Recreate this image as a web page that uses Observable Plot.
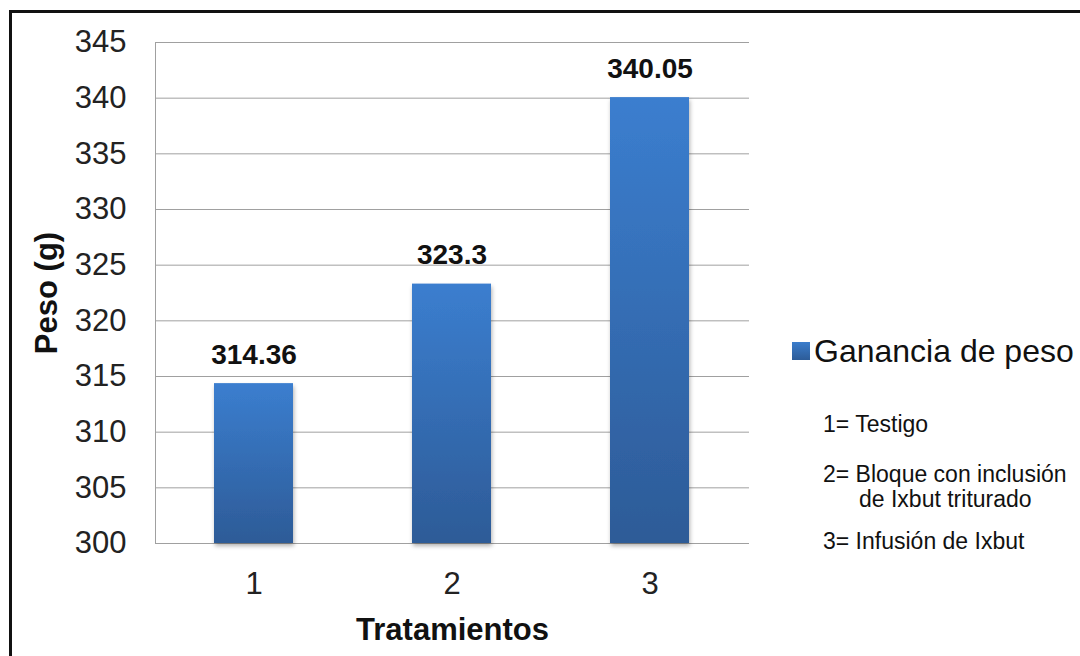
<!DOCTYPE html>
<html>
<head>
<meta charset="utf-8">
<script src="https://cdn.jsdelivr.net/npm/d3@7"></script>
<script src="https://cdn.jsdelivr.net/npm/@observablehq/plot@0.6"></script>
<style>
  html, body { margin: 0; padding: 0; background: #fff; overflow: hidden; }
  body { width: 1080px; height: 656px; position: relative; font-family: "Liberation Sans", Arial, sans-serif; }
  #frame { position: absolute; left: 9px; top: 10px; width: 1200px; height: 800px; border-left: 3px solid #111; border-top: 3px solid #111; }
  #chart { position: absolute; left: 0; top: 0; }
  .leg { position: absolute; color: #111; white-space: nowrap; }
</style>
</head>
<body>
<div id="frame"></div>
<div id="chart"></div>
<div class="leg" style="left:792px; top:331px; font-size:32px; line-height:40px;">
  <span style="display:inline-block; width:18px; height:18px; background:linear-gradient(#3b7dcc,#2d5c98); vertical-align:middle; margin-right:4px; position:relative; top:-3px;"></span>Ganancia de peso
</div>
<div class="leg" style="left:823px; top:411px; font-size:23px;">1= Testigo</div>
<div class="leg" style="left:823px; top:461px; font-size:23px;">2= Bloque con inclusión</div>
<div class="leg" style="left:859px; top:486px; font-size:23px;">de Ixbut triturado</div>
<div class="leg" style="left:823px; top:528px; font-size:23px;">3= Infusión de Ixbut</div>
<script>
const tratamientos = ["1", "2", "3"];
const ganancia = [314.36, 323.3, 340.05];
const etiquetas = ["314.36", "323.3", "340.05"];
const yTicks = [300, 305, 310, 315, 320, 325, 330, 335, 340, 345];

const data = tratamientos.map((t, i) => ({t, v: ganancia[i], label: etiquetas[i]}));

const plot = Plot.plot({
  width: 1080,
  height: 656,
  marginLeft: 155,
  marginRight: 331,
  marginTop: 42,
  marginBottom: 113,
  style: {fontFamily: "Liberation Sans, Arial, sans-serif", background: "transparent", color: "#111"},
  x: {domain: tratamientos, paddingInner: 0.6, paddingOuter: 0.3, label: null},
  y: {domain: [300, 345], label: null},
  marks: [
    Plot.gridY(yTicks, {stroke: "#a0a0a0", strokeOpacity: 1, strokeWidth: 1}),
    Plot.frame({anchor: "left", stroke: "#a0a0a0"}),
    Plot.barY(data, {x: "t", y1: 300, y2: "v", fill: "url(#barGrad)"}),
    Plot.text(data, {x: "t", y: "v", text: "label", dy: -29, fontSize: 28, fontWeight: "bold", fill: "#111", lineAnchor: "middle"}),
    Plot.axisY(yTicks, {tickSize: 0, tickPadding: 29, fontSize: 31, fill: "#222", label: null}),
    Plot.axisX({tickSize: 0, tickPadding: 28, fontSize: 31, fill: "#222", label: null}),
    Plot.text(["Tratamientos"], {frameAnchor: "bottom", dy: 87, text: d => d, fontSize: 31, fontWeight: "bold", fill: "#111", lineAnchor: "middle"}),
    Plot.text(["Peso (g)"], {frameAnchor: "left", dx: -108, rotate: -90, text: d => d, fontSize: 31, fontWeight: "bold", fill: "#111", textAnchor: "middle", lineAnchor: "middle"})
  ]
});

const svg = d3.select(plot);
const defs = svg.insert("defs", ":first-child");
const g = defs.append("linearGradient").attr("id", "barGrad").attr("x1", 0).attr("y1", 0).attr("x2", 0).attr("y2", 1);
g.append("stop").attr("offset", "0%").attr("stop-color", "#3b7ecf");
g.append("stop").attr("offset", "100%").attr("stop-color", "#2d5b97");
const f = defs.append("filter").attr("id", "shadow").attr("x", "-20%").attr("y", "-20%").attr("width", "140%").attr("height", "140%");
f.append("feDropShadow").attr("dx", 1).attr("dy", 3).attr("stdDeviation", 2).attr("flood-color", "#000").attr("flood-opacity", 0.3);
svg.selectAll("rect").filter(function() { return this.getAttribute("fill") === "url(#barGrad)" || (this.parentNode && this.parentNode.getAttribute("fill") === "url(#barGrad)"); }).attr("filter", "url(#shadow)");

document.getElementById("chart").appendChild(plot);
</script>
</body>
</html>
